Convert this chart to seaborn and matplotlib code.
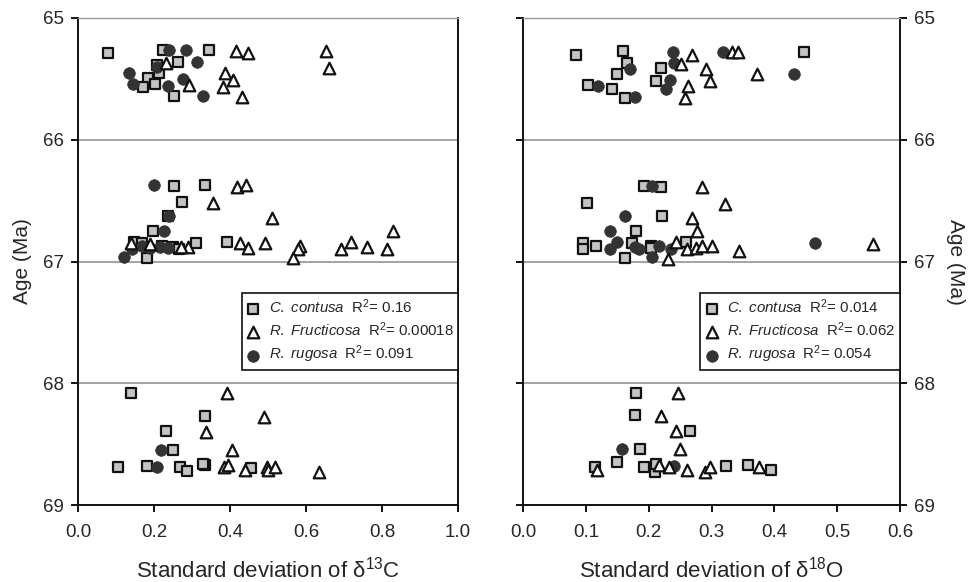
import matplotlib
matplotlib.use("Agg")
import matplotlib.pyplot as plt
import seaborn as sns
import pandas as pd
import numpy as np

# ---------------- data ----------------
# Left panel: SD of d13C vs Age (Ma)
c13_contusa_x = [0.080, 0.224, 0.345, 0.262, 0.207, 0.213, 0.185, 0.203, 0.170, 0.253,
                 0.253, 0.334, 0.273, 0.236, 0.198, 0.148, 0.168, 0.220, 0.251, 0.181,
                 0.266, 0.310, 0.391,
                 0.139, 0.333, 0.231, 0.251, 0.104, 0.181, 0.268, 0.286, 0.334, 0.330, 0.454]
c13_contusa_y = [65.29, 65.26, 65.26, 65.36, 65.39, 65.45, 65.49, 65.54, 65.57, 65.64,
                 66.38, 66.37, 66.51, 66.63, 66.75, 66.84, 66.85, 66.87, 66.88, 66.97,
                 66.90, 66.85, 66.84,
                 68.08, 68.27, 68.39, 68.55, 68.69, 68.68, 68.69, 68.72, 68.67, 68.66, 68.70]
c13_fruct_x = [0.416, 0.448, 0.231, 0.652, 0.661, 0.387, 0.409, 0.382, 0.292, 0.431,
               0.418, 0.442, 0.354, 0.510, 0.830, 0.425, 0.448, 0.492, 0.584, 0.580,
               0.567, 0.691, 0.718, 0.761, 0.814, 0.289, 0.140, 0.190, 0.270,
               0.393, 0.490, 0.337, 0.404, 0.384, 0.396, 0.439, 0.497, 0.499, 0.518, 0.635]
c13_fruct_y = [65.27, 65.29, 65.37, 65.27, 65.41, 65.45, 65.51, 65.57, 65.55, 65.65,
               66.39, 66.37, 66.52, 66.64, 66.75, 66.85, 66.89, 66.85, 66.87, 66.90,
               66.97, 66.90, 66.84, 66.88, 66.90, 66.88, 66.85, 66.86, 66.88,
               68.08, 68.28, 68.40, 68.55, 68.69, 68.67, 68.71, 68.69, 68.71, 68.69, 68.73]
c13_rugosa_x = [0.240, 0.283, 0.312, 0.207, 0.134, 0.146, 0.277, 0.238, 0.330,
                0.200, 0.240, 0.225, 0.121, 0.141, 0.168, 0.189, 0.216, 0.238,
                0.218, 0.207]
c13_rugosa_y = [65.26, 65.26, 65.36, 65.40, 65.45, 65.54, 65.50, 65.56, 65.64,
                66.37, 66.63, 66.75, 66.96, 66.90, 66.87, 66.89, 66.88, 66.89,
                68.55, 68.69]

# Right panel: SD of d18O vs Age (Ma)
o18_contusa_x = [0.084, 0.159, 0.165, 0.149, 0.104, 0.142, 0.162, 0.220, 0.212, 0.448,
                 0.192, 0.220, 0.102, 0.222, 0.180, 0.096, 0.116, 0.095, 0.163, 0.173,
                 0.204, 0.203, 0.259,
                 0.180, 0.178, 0.266, 0.187, 0.150, 0.114, 0.193, 0.210, 0.212, 0.323,
                 0.358, 0.394]
o18_contusa_y = [65.30, 65.27, 65.37, 65.46, 65.55, 65.58, 65.66, 65.41, 65.52, 65.28,
                 66.38, 66.39, 66.52, 66.63, 66.75, 66.85, 66.87, 66.90, 66.97, 66.85,
                 66.87, 66.89, 66.84,
                 68.08, 68.26, 68.39, 68.54, 68.65, 68.69, 68.69, 68.73, 68.66, 68.68,
                 68.67, 68.71]
o18_fruct_x = [0.269, 0.252, 0.333, 0.342, 0.292, 0.297, 0.263, 0.258, 0.373,
               0.285, 0.322, 0.269, 0.277, 0.244, 0.261, 0.275, 0.285, 0.300, 0.344,
               0.231, 0.557,
               0.247, 0.220, 0.244, 0.250, 0.118, 0.217, 0.232, 0.261, 0.290, 0.298, 0.375]
o18_fruct_y = [65.30, 65.38, 65.28, 65.28, 65.42, 65.52, 65.56, 65.66, 65.46,
               66.39, 66.53, 66.64, 66.75, 66.84, 66.90, 66.89, 66.87, 66.87, 66.91,
               66.98, 66.86,
               68.08, 68.27, 68.39, 68.54, 68.71, 68.67, 68.69, 68.71, 68.73, 68.69, 68.69]
o18_rugosa_x = [0.120, 0.170, 0.178, 0.238, 0.241, 0.234, 0.227, 0.319, 0.432,
                0.206, 0.162, 0.139, 0.149, 0.138, 0.178, 0.185, 0.206, 0.217, 0.236,
                0.465,
                0.157, 0.241]
o18_rugosa_y = [65.56, 65.42, 65.65, 65.28, 65.37, 65.51, 65.58, 65.28, 65.46,
                66.38, 66.63, 66.75, 66.84, 66.90, 66.88, 66.90, 66.96, 66.87, 66.90,
                66.85,
                68.54, 68.68]

species = ["C. contusa", "R. Fructicosa", "R. rugosa"]
r2_left = ["0.16", "0.00018", "0.091"]
r2_right = ["0.014", "0.062", "0.054"]
left_xticks = [0.0, 0.2, 0.4, 0.6, 0.8, 1.0]
right_xticks = [0.0, 0.1, 0.2, 0.3, 0.4, 0.5, 0.6]
age_ticks = [65, 66, 67, 68, 69]

# ---------------- style ----------------
sns.set_theme(style="white")
plt.rcParams["font.family"] = ["Liberation Sans", "DejaVu Sans"]
plt.rcParams["mathtext.fontset"] = "custom"
plt.rcParams["mathtext.rm"] = "Liberation Sans"
plt.rcParams["mathtext.it"] = "Liberation Sans:italic"

styles = {
    "C. contusa": dict(marker="s", color="#c4c4c4", edgecolor="#111111", linewidth=1.6, s=62),
    "R. Fructicosa": dict(marker="^", color="white", edgecolor="#111111", linewidth=1.6, s=70),
    "R. rugosa": dict(marker="o", color="#333333", edgecolor="#333333", linewidth=0.5, s=70),
}

def make_df(cx, cy, fx, fy, rx, ry):
    frames = []
    for sp, xs, ys in zip(species, [cx, fx, rx], [cy, fy, ry]):
        frames.append(pd.DataFrame({"sd": xs, "age": ys, "species": sp}))
    return pd.concat(frames, ignore_index=True)

df_left = make_df(c13_contusa_x, c13_contusa_y, c13_fruct_x, c13_fruct_y,
                  c13_rugosa_x, c13_rugosa_y)
df_right = make_df(o18_contusa_x, o18_contusa_y, o18_fruct_x, o18_fruct_y,
                   o18_rugosa_x, o18_rugosa_y)

fig = plt.figure(figsize=(9.72, 5.82), dpi=100)
axL = fig.add_axes([78 / 972, 1 - 505 / 582, 380 / 972, 487 / 582])
axR = fig.add_axes([523 / 972, 1 - 505 / 582, 377 / 972, 487 / 582])

def draw(ax, df, r2s):
    for sp, r2 in zip(["C. contusa", "R. rugosa", "R. Fructicosa"],
                      [r2s[0], r2s[2], r2s[1]]):
        st = styles[sp]
        sub = df[df["species"] == sp]
        lab = r"$\mathit{" + sp.replace(" ", r"\ ") + r"}$  R$^2$= " + r2
        sns.scatterplot(data=sub, x="sd", y="age", ax=ax, marker=st["marker"],
                        color=st["color"], edgecolor=st["edgecolor"],
                        linewidth=st["linewidth"], s=st["s"], label=lab, zorder=3)
    ax.set_ylim(69, 65)
    ax.set_yticks(age_ticks)
    ax.yaxis.grid(True, color="#8a8a8a", linewidth=1.1)
    ax.xaxis.grid(False)
    for name, sp_ in ax.spines.items():
        sp_.set_color("#111111")
        sp_.set_linewidth(1.4)
    ax.spines["top"].set_color("#999999")
    ax.spines["top"].set_linewidth(1.0)
    ax.tick_params(axis="both", direction="out", length=5, width=1.4,
                   color="#111111", labelsize=13.5, pad=5)
    ax.tick_params(axis="x", pad=9)
    ax.tick_params(axis="both", which="both", bottom=True, left=True)
    handles, labels = ax.get_legend_handles_labels()
    order = [0, 2, 1]
    leg = ax.legend([handles[i] for i in order], [labels[i] for i in order],
                    loc="upper right", bbox_to_anchor=(1.0, 0.435),
                    frameon=True, fancybox=False, edgecolor="#111111",
                    fontsize=10.8, handlelength=0.9, handletextpad=0.6,
                    labelspacing=0.3, borderpad=0.3, borderaxespad=0.0,
                    framealpha=1)
    leg.get_frame().set_linewidth(1.2)
    return leg

draw(axL, df_left, r2_left)
draw(axR, df_right, r2_right)

axL.set_xlim(0, 1.0)
axL.set_xticks(left_xticks)
axL.set_xticklabels([f"{v:.1f}" for v in left_xticks])
axL.set_yticklabels([str(v) for v in age_ticks])
axL.set_xlabel(r"Standard deviation of δ$^{13}$C", fontsize=16, labelpad=11)
axL.set_ylabel("Age (Ma)", fontsize=15, labelpad=8)

axR.set_xlim(0, 0.6)
axR.set_xticks(right_xticks)
axR.set_xticklabels([f"{v:.1f}" for v in right_xticks])
axR.yaxis.tick_right()
axR.tick_params(axis="y", left=True, right=True, labelleft=False, labelright=True)
axR.set_yticklabels([str(v) for v in age_ticks])
axR.yaxis.set_label_position("right")
axR.set_xlabel(r"Standard deviation of δ$^{18}$O", fontsize=16, labelpad=11)
axR.set_ylabel("Age (Ma)", fontsize=15, rotation=270, labelpad=22)

fig.savefig("out.png", dpi=100, facecolor="white")
